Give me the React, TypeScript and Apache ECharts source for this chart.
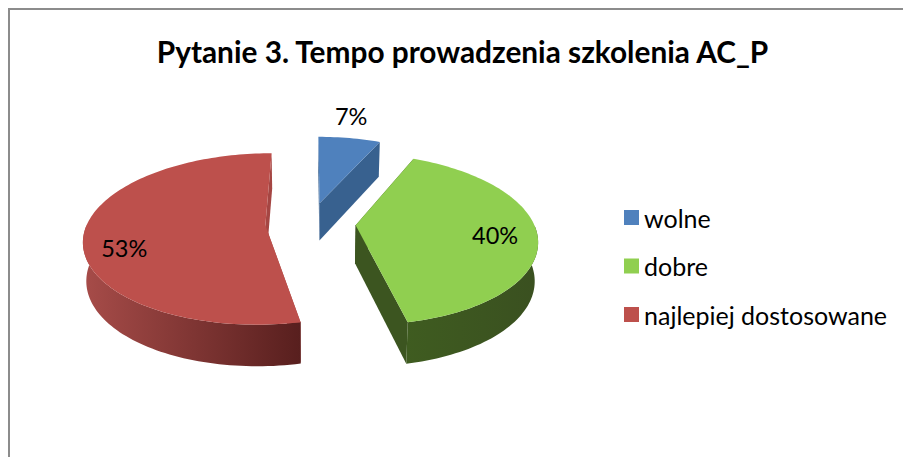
import React, { useEffect, useRef } from "react";
import * as echarts from "echarts";

const titleText = "Pytanie 3. Tempo prowadzenia szkolenia AC_P";
const categories = ["wolne", "dobre", "najlepiej dostosowane"];
const percentValues = [6.7, 40, 53.3];

const faceColors = ["#4f81bd", "#90cf50", "#bd504c"];
const wallColors = ["#38618f", "#3c5520", "#a54643"];
const sideFrom = ["#38618f", "#3f5c20", "#a74c49"];
const sideTo = ["#38618f", "#3a5020", "#581f1e"];
const labelRadius = [1.4, 0.77, 0.79];
const labelSweepFraction = [0.4, 0.516, 0.43];

const FONT = "Lato, Carlito, 'Liberation Sans', sans-serif";
const CX = 310.5, CY = 223, A = 178, B = 82.8, K = 0.16, EXPLODE = 0.254, DEPTH = 38, BOTTOM_SCALE = 0.985;

type P = [number, number];
const top = (X: number, Y: number): P => {
  const f = 1 / (1 - K * Y);
  return [CX + A * X * f, CY + B * Y * f];
};
const bottom = (X: number, Y: number): P => {
  const f = 1 / (1 - K * Y);
  return [CX + A * X * f * BOTTOM_SCALE, CY + B * Y * f + DEPTH * Math.sqrt(f)];
};

const total = percentValues.reduce((s, v) => s + v, 0);

function sliceGeometry(i: number) {
  const before = percentValues.slice(0, i).reduce((s, v) => s + v, 0);
  const start = (before / total) * Math.PI * 2;
  const end = ((before + percentValues[i]) / total) * Math.PI * 2;
  const mid = (start + end) / 2;
  const ox = Math.sin(mid) * EXPLODE;
  const oy = -Math.cos(mid) * EXPLODE;
  const rim: P[] = [];
  const frontRim: P[] = [];
  const n = Math.max(4, Math.round((end - start) / (Math.PI / 120)));
  for (let k = 0; k <= n; k++) {
    const t = start + ((end - start) * k) / n;
    const p: P = [ox + Math.sin(t), oy - Math.cos(t)];
    rim.push(p);
    if (-Math.cos(t) >= -0.02) frontRim.push(p);
  }
  return { start, end, ox, oy, rim, frontRim };
}

function renderSlice(i: number) {
  const { start, end, ox, oy, rim, frontRim } = sliceGeometry(i);
  const apex: P = [ox, oy];
  const first = rim[0];
  const last = rim[rim.length - 1];
  const wall = (p: P) => ({
    type: "polygon",
    shape: { points: [top(...apex), top(...p), bottom(...p), bottom(...apex)] },
    style: { fill: wallColors[i] },
  });
  const children: any[] = [wall(first), wall(last)];
  if (frontRim.length > 1) {
    children.push({
      type: "polygon",
      shape: {
        points: [
          ...frontRim.map((p) => top(p[0], p[1])),
          ...frontRim.slice().reverse().map((p) => bottom(p[0], p[1])),
        ],
      },
      style: {
        fill: new echarts.graphic.LinearGradient(0, 0, 1, 0, [
          { offset: 0, color: sideFrom[i] },
          { offset: 1, color: sideTo[i] },
        ]),
      },
    });
  }
  children.push({
    type: "polygon",
    shape: { points: [top(...apex), ...rim.map((p) => top(p[0], p[1]))] },
    style: { fill: faceColors[i] },
  });
  const la = start + (end - start) * labelSweepFraction[i];
  const lp = top(ox + Math.sin(la) * labelRadius[i], oy - Math.cos(la) * labelRadius[i]);
  children.push({
    type: "text",
    style: {
      x: lp[0],
      y: lp[1],
      text: `${Math.round((percentValues[i] / total) * 100)}%`,
      fontSize: 23.5,
      fontFamily: FONT,
      fill: "#000000",
      align: "center",
      verticalAlign: "middle",
    },
  });
  return { type: "group", children };
}

export default function App() {
  const ref = useRef<HTMLDivElement>(null);
  useEffect(() => {
    if (!ref.current) return;
    const chart = echarts.init(ref.current, undefined, { renderer: "svg" });
    chart.setOption({
      animation: false,
      backgroundColor: "#ffffff",
      title: {
        text: titleText,
        left: 457.5,
        top: 31,
        textAlign: "center",
        textStyle: { fontFamily: FONT, fontSize: 29.8, fontWeight: "bold", color: "#000000" },
      },
      legend: {
        orient: "vertical",
        left: 624,
        top: 205,
        padding: 0,
        icon: "rect",
        itemWidth: 15,
        itemHeight: 15,
        itemGap: 23.5,
        data: categories,
        selectedMode: false,
        textStyle: { fontFamily: FONT, fontSize: 25, color: "#000000" },
      },
      graphic: [
        {
          type: "polyline",
          shape: { points: [[9, 457], [9, 9], [903, 9]] },
          style: { stroke: "#8c8c8c", lineWidth: 2, fill: "none" },
        },
      ],
      series: categories.map((name, i) => ({
        type: "custom",
        name,
        coordinateSystem: "none",
        data: [percentValues[i]],
        itemStyle: { color: faceColors[i] },
        renderItem: () => renderSlice(i),
      })),
    });
    return () => chart.dispose();
  }, []);
  return <div ref={ref} style={{ position: "absolute", left: 0, top: 0, width: 903, height: 457 }} />;
}
